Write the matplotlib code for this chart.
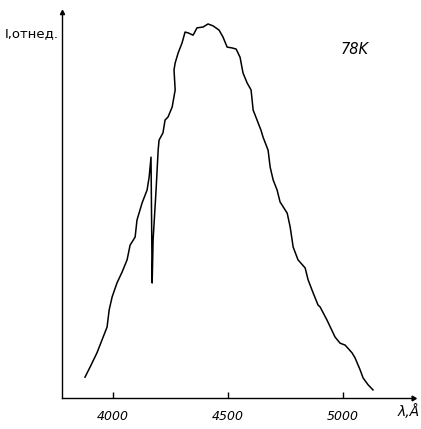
import matplotlib.pyplot as plt
import numpy as np

# spectrum (wavelength in A, intensity in arb. units)
wavelength = [3878, 3900, 3930, 3957, 3974, 3983, 3996, 4017, 4039, 4061,
              4074, 4096, 4104, 4126, 4148, 4157, 4165, 4170, 4174, 4187,
              4196, 4200, 4217, 4226, 4239, 4257, 4270, 4265, 4270, 4283,
              4300, 4313, 4326, 4348, 4365, 4391, 4413, 4435, 4461, 4478,
              4496, 4517, 4535, 4552, 4565, 4583, 4600, 4609, 4626, 4643,
              4652, 4674, 4683, 4696, 4713, 4726, 4757, 4770, 4783, 4804,
              4835, 4848, 4870, 4891, 4900, 4930, 4965, 4987, 5009, 5039,
              5052, 5074, 5087, 5109, 5130]
intensity = [5.4, 8.0, 11.7, 15.8, 18.4, 22.8, 26.2, 29.8, 32.6, 35.8,
             39.6, 41.7, 46.1, 50.5, 53.9, 57.3, 62.4, 29.8, 40.9, 53.9,
             64.2, 66.8, 68.7, 72.0, 72.8, 75.4, 79.8, 85.0, 86.8, 89.4,
             92.0, 94.8, 94.6, 94.0, 95.9, 96.1, 96.9, 96.4, 95.3, 93.5,
             90.9, 90.7, 90.4, 88.3, 84.2, 81.6, 79.8, 74.6, 72.0, 69.4,
             67.6, 64.2, 59.8, 56.5, 53.9, 50.8, 47.9, 44.3, 39.1, 35.8,
             33.7, 30.6, 27.2, 24.1, 23.6, 20.2, 15.8, 14.2, 13.7, 11.7,
             10.4, 7.3, 5.2, 3.4, 2.1]

xticks = [4000, 4500, 5000]

fig = plt.figure(figsize=(4.21, 4.29), dpi=100)
ax = fig.add_axes([62 / 421, 31 / 429, 351 / 421, 386 / 429])

ax.plot(wavelength, intensity, color='black', lw=1.1)

ax.set_xlim(3778, 5304)
ax.set_ylim(0, 100)

ax.spines['top'].set_visible(False)
ax.spines['right'].set_visible(False)
ax.spines['left'].set_linewidth(1.0)
ax.spines['bottom'].set_linewidth(1.0)

# arrow heads on the axes
ax.plot(1, 0, marker=(3, 0, -90), markersize=4, color='black',
        transform=ax.transAxes, clip_on=False)
ax.plot(0, 1, marker='^', markersize=3, color='black',
        transform=ax.transAxes, clip_on=False)

ax.set_xticks(xticks)
ax.set_xticklabels([str(t) for t in xticks], fontsize=9, style='italic')
ax.tick_params(axis='x', direction='in', length=4, width=1, pad=9)
ax.set_yticks([])

fig.text(5 / 421, 1 - 34 / 429, 'I,отнед.', fontsize=9.5, va='center', ha='left')
fig.text(355 / 421, 1 - 50 / 429, '78K', fontsize=10.5, style='italic',
         va='center', ha='center')
fig.text(398 / 421, 1 - 412 / 429, 'λ,Å', fontsize=10, style='italic',
         va='center', ha='left')

fig.savefig('out.png', dpi=100)
